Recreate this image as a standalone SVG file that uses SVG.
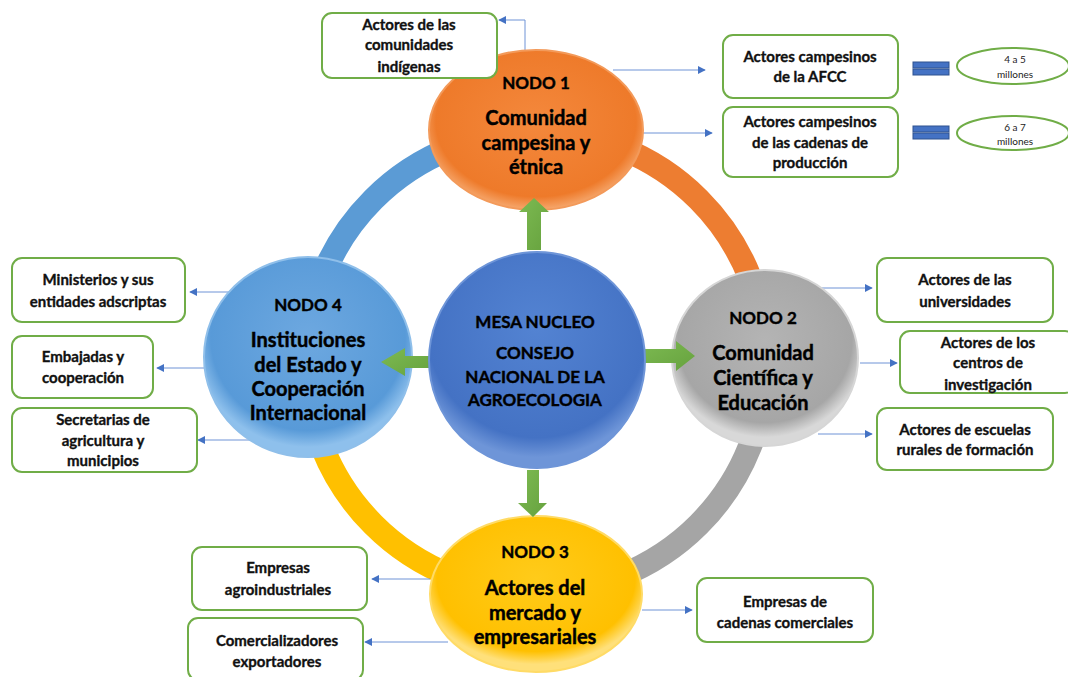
<svg xmlns="http://www.w3.org/2000/svg" width="1068" height="677" viewBox="0 0 1068 677">
<style>
.box{fill:#fff;stroke:#70AD47;stroke-width:2}
.bt{font-family:Lato,"Liberation Sans",sans-serif;font-weight:bold;font-size:15px;fill:#111;stroke:#111;stroke-width:0.35;text-anchor:middle}
.nt{font-family:Lato,"Liberation Sans",sans-serif;font-weight:bold;font-size:20px;fill:#000;stroke:#000;stroke-width:0.45;text-anchor:middle}
.nh{font-family:Lato,"Liberation Sans",sans-serif;font-weight:bold;font-size:17px;fill:#000;stroke:#000;stroke-width:0.4;text-anchor:middle}
.ct{font-family:Lato,"Liberation Sans",sans-serif;font-weight:bold;font-size:17px;fill:#000;stroke:#000;stroke-width:0.4;text-anchor:middle}
.et{font-family:Lato,"Liberation Sans",sans-serif;font-size:10px;fill:#222;text-anchor:middle}
.con{fill:none;stroke:#6F93D6;stroke-width:1;marker-end:url(#ah)}
.ring{fill:none;stroke-width:24}
.garrow{fill:url(#gg)}
.bar{fill:#4472C4;stroke:#2F528F;stroke-width:1}
.oval{fill:#fff;stroke:#70AD47;stroke-width:2}
</style>
<defs>
<marker id="ah" viewBox="0 0 10 10" refX="9" refY="5" markerWidth="8" markerHeight="8" markerUnits="userSpaceOnUse" orient="auto">
<path d="M0,0 L10,5 L0,10 z" fill="#4472C4"/>
</marker>
<radialGradient id="go" cx="50%" cy="45%" r="55%"><stop offset="0" stop-color="#F4883C"/><stop offset="0.85" stop-color="#EE7A2A"/><stop offset="1" stop-color="#F6A86E"/></radialGradient>
<radialGradient id="gb" cx="50%" cy="40%" r="55%"><stop offset="0" stop-color="#6DA8E0"/><stop offset="0.85" stop-color="#589AD8"/><stop offset="1" stop-color="#8EC0EC"/></radialGradient>
<radialGradient id="gs" cx="50%" cy="40%" r="55%"><stop offset="0" stop-color="#B4B4B4"/><stop offset="0.85" stop-color="#A6A6A6"/><stop offset="1" stop-color="#D8D8D8"/></radialGradient>
<radialGradient id="gy" cx="50%" cy="40%" r="55%"><stop offset="0" stop-color="#FFCB1A"/><stop offset="0.85" stop-color="#FFC000"/><stop offset="1" stop-color="#FFE07A"/></radialGradient>
<radialGradient id="gc" cx="50%" cy="35%" r="60%"><stop offset="0" stop-color="#5383D2"/><stop offset="0.85" stop-color="#4472C4"/><stop offset="1" stop-color="#6E95D8"/></radialGradient>
<linearGradient id="gg" x1="0" y1="0" x2="1" y2="1"><stop offset="0" stop-color="#7DBA52"/><stop offset="1" stop-color="#66A23E"/></linearGradient>
</defs>

<g id="ring">
<path class="ring" stroke="#5B9BD5" d="M306,362 A230,230 0 0 1 536,132"/>
<path class="ring" stroke="#ED7D31" d="M536,132 A230,230 0 0 1 766,362"/>
<path class="ring" stroke="#A5A5A5" d="M766,362 A230,230 0 0 1 536,592"/>
<path class="ring" stroke="#FFC000" d="M536,592 A230,230 0 0 1 306,362"/>
</g>

<g id="connectors">
<path class="con" d="M525,50 V20 H499"/>
<path class="con" d="M613,70 H705"/>
<path class="con" d="M640,133 H712"/>
<path class="con" d="M247,292 H190"/>
<path class="con" d="M213,368 H157"/>
<path class="con" d="M255,440 H198"/>
<path class="con" d="M817,288 H872"/>
<path class="con" d="M860,363 H897"/>
<path class="con" d="M818,434 H872"/>
<path class="con" d="M430,579 H372"/>
<path class="con" d="M448,642 H365"/>
<path class="con" d="M642,610 H692"/>
</g>

<g id="node1">
<ellipse cx="536" cy="130" rx="107" ry="80" fill="url(#go)" stroke="#F39A5A" stroke-width="2"/>
<text class="nh" x="536" y="89">NODO 1</text>
<text class="nt" x="536" y="125">Comunidad</text>
<text class="nt" x="536" y="150">campesina y</text>
<text class="nt" x="536" y="174">étnica</text>
</g>

<g id="node4">
<ellipse cx="308" cy="357" rx="104" ry="100" fill="url(#gb)" stroke="#8FBFEA" stroke-width="2"/>
<text class="nh" x="308" y="311">NODO 4</text>
<text class="nt" x="308" y="347">Instituciones</text>
<text class="nt" x="308" y="372">del Estado y</text>
<text class="nt" x="308" y="396">Cooperación</text>
<text class="nt" x="308" y="420">Internacional</text>
</g>

<g id="node2">
<ellipse cx="765" cy="358" rx="93" ry="88" fill="url(#gs)" stroke="#D6D6D6" stroke-width="2"/>
<text class="nh" x="763" y="324">NODO 2</text>
<text class="nt" x="763" y="360">Comunidad</text>
<text class="nt" x="763" y="385">Científica y</text>
<text class="nt" x="763" y="410">Educación</text>
</g>

<g id="node3">
<ellipse cx="536" cy="594" rx="106" ry="78" fill="url(#gy)" stroke="#FFDB66" stroke-width="2"/>
<text class="nh" x="535" y="558">NODO 3</text>
<text class="nt" x="535" y="595">Actores del</text>
<text class="nt" x="535" y="620">mercado y</text>
<text class="nt" x="535" y="644">empresariales</text>
</g>

<g id="arrows">
<path class="garrow" d="M527,250 V212 H519 L534,198 L549,212 H541 V250 Z"/>
<path class="garrow" d="M527,470 V503 H518 L533,517 L547,503 H539 V470 Z"/>
<path class="garrow" d="M432,356 H405 V348 L381,362 L405,376 V368 H432 Z"/>
<path class="garrow" d="M640,349 H676 V341 L695,356 L676,371 V363 H640 Z"/>
</g>

<g id="center">
<circle cx="537" cy="360" r="108" fill="url(#gc)" stroke="#6E95D8" stroke-width="2"/>
<text class="ct" x="535" y="328">MESA NUCLEO</text>
<text class="ct" x="535" y="359">CONSEJO</text>
<text class="ct" x="535" y="383">NACIONAL DE LA</text>
<text class="ct" x="535" y="406">AGROECOLOGIA</text>
</g>

<g id="box-indigenas">
<rect class="box" x="322" y="13" width="175" height="65" rx="10"/>
<text class="bt" x="409" y="30">Actores de las</text>
<text class="bt" x="409" y="50">comunidades</text>
<text class="bt" x="409" y="72">indígenas</text>
</g>
<g id="box-afcc">
<rect class="box" x="723" y="35" width="175" height="63" rx="10"/>
<text class="bt" x="810" y="62">Actores campesinos</text>
<text class="bt" x="810" y="82">de la AFCC</text>
</g>
<g id="box-cadenas">
<rect class="box" x="723" y="107" width="175" height="70" rx="10"/>
<text class="bt" x="810" y="127">Actores campesinos</text>
<text class="bt" x="810" y="148">de las cadenas de</text>
<text class="bt" x="810" y="168">producción</text>
</g>
<g id="eq1">
<rect class="bar" x="913" y="62" width="36" height="6"/>
<rect class="bar" x="913" y="69" width="36" height="6"/>
</g>
<g id="eq2">
<rect class="bar" x="913" y="126" width="36" height="6"/>
<rect class="bar" x="913" y="133" width="36" height="6"/>
</g>
<g id="oval1">
<ellipse class="oval" cx="1013" cy="66" rx="56" ry="18"/>
<text class="et" x="1015" y="63">4 a 5</text>
<text class="et" x="1015" y="78">millones</text>
</g>
<g id="oval2">
<ellipse class="oval" cx="1013" cy="133" rx="56" ry="17"/>
<text class="et" x="1015" y="131">6 a 7</text>
<text class="et" x="1015" y="145">millones</text>
</g>

<g id="box-ministerios">
<rect class="box" x="12" y="258" width="173" height="64" rx="10"/>
<text class="bt" x="98" y="285">Ministerios y sus</text>
<text class="bt" x="98" y="307">entidades adscriptas</text>
</g>
<g id="box-embajadas">
<rect class="box" x="12" y="336" width="141" height="62" rx="10"/>
<text class="bt" x="83" y="362">Embajadas y</text>
<text class="bt" x="83" y="383">cooperación</text>
</g>
<g id="box-secretarias">
<rect class="box" x="12" y="408" width="185" height="64" rx="10"/>
<text class="bt" x="103" y="425">Secretarias de</text>
<text class="bt" x="103" y="446">agricultura y</text>
<text class="bt" x="103" y="466">municipios</text>
</g>

<g id="box-universidades">
<rect class="box" x="877" y="258" width="176" height="64" rx="10"/>
<text class="bt" x="965" y="285">Actores de las</text>
<text class="bt" x="965" y="307">universidades</text>
</g>
<g id="box-centros">
<rect class="box" x="900" y="331" width="175" height="62" rx="10"/>
<text class="bt" x="988" y="348">Actores de los</text>
<text class="bt" x="988" y="368">centros de</text>
<text class="bt" x="988" y="390">investigación</text>
</g>
<g id="box-escuelas">
<rect class="box" x="877" y="408" width="176" height="62" rx="10"/>
<text class="bt" x="965" y="435">Actores de escuelas</text>
<text class="bt" x="965" y="455">rurales de formación</text>
</g>

<g id="box-agroindustriales">
<rect class="box" x="192" y="547" width="175" height="63" rx="10"/>
<text class="bt" x="278" y="573">Empresas</text>
<text class="bt" x="278" y="595">agroindustriales</text>
</g>
<g id="box-comercializadores">
<rect class="box" x="188" y="618" width="175" height="62" rx="10"/>
<text class="bt" x="277" y="646">Comercializadores</text>
<text class="bt" x="277" y="667">exportadores</text>
</g>
<g id="box-cadenas-comerciales">
<rect class="box" x="697" y="578" width="176" height="64" rx="10"/>
<text class="bt" x="785" y="607">Empresas de</text>
<text class="bt" x="785" y="628">cadenas comerciales</text>
</g>
</svg>
